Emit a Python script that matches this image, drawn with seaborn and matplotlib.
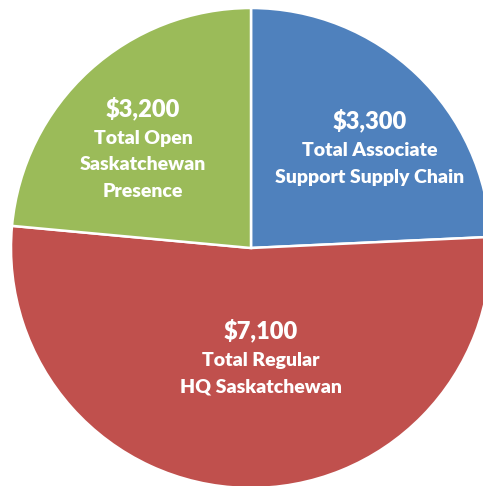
import matplotlib
matplotlib.use("Agg")
import matplotlib.pyplot as plt
import seaborn as sns

# Data
values = [3300, 7100, 3200]
value_labels = ["$3,300", "$7,100", "$3,200"]
name_labels = [["Total Associate", "Support Supply Chain"],
               ["Total Regular", "HQ Saskatchewan"],
               ["Total Open", "Saskatchewan", "Presence"]]
colors = ["#4F81BD", "#C0504D", "#9BBB59"]

sns.set_theme(style="white")
plt.rcParams['font.family'] = ['Lato', 'DejaVu Sans']

fig = plt.figure(figsize=(4.83, 4.86), dpi=100)
ax = fig.add_axes([0, 0, 1, 1])

wedges, _ = ax.pie(values, colors=colors, startangle=90, counterclock=False,
                   radius=1, wedgeprops=dict(edgecolor="white", linewidth=1.8))

# pie of radius 1 drawn at 240 px, center at (251, 248) px from top-left
px = 240.0
ax.set_xlim(-251 / px, (483 - 251) / px)
ax.set_ylim(-(486 - 248) / px, 248 / px)
ax.set_aspect('auto')
ax.axis('off')

# label anchors (center of the value line), in pie units
anchors = [(0.495, 0.53), (0.04, -0.342), (-0.45, 0.583)]
for (x, y), val, names in zip(anchors, value_labels, name_labels):
    ax.text(x, y, val, color="white", fontsize=17, fontweight="heavy",
            ha="center", va="center")
    for i, line in enumerate(names):
        ax.text(x, y - (30 + 26.5 * i) / px, line, color="white", fontsize=14,
                fontweight="heavy", ha="center", va="center")

fig.savefig("out.png", dpi=100, facecolor="white")
